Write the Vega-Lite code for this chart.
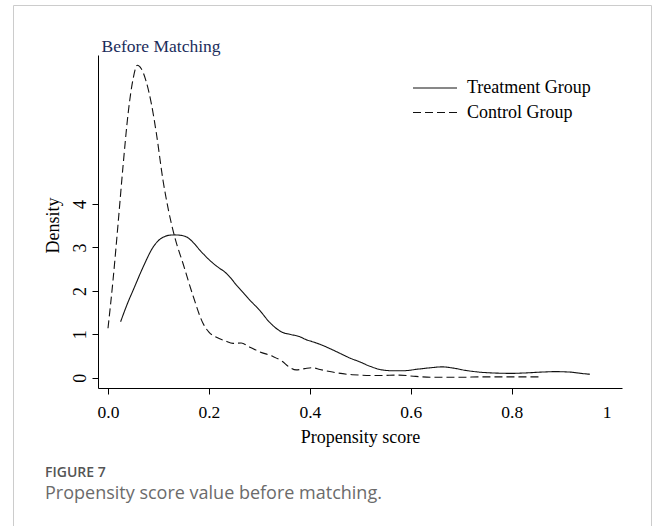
{
  "$schema": "https://vega.github.io/schema/vega-lite/v6.json",
  "width": 638,
  "height": 521,
  "autosize": {"type": "none"},
  "padding": {"left": 13, "top": 5, "right": 7, "bottom": 0},
  "background": "white",
  "config": {
    "view": {"stroke": "#cccccc", "strokeWidth": 1},
    "font": "Liberation Serif",
    "axis": {
      "grid": false,
      "domainColor": "#000000",
      "tickColor": "#000000",
      "labelColor": "#000000",
      "titleColor": "#000000",
      "labelFont": "Liberation Serif",
      "titleFont": "Liberation Serif",
      "labelFontSize": 17.5,
      "titleFontSize": 18,
      "titleFontWeight": "normal",
      "tickSize": 6
    }
  },
  "datasets": {
    "curves": [
      {"group": "Treatment Group", "x": 0.025, "y": 1.29},
      {"group": "Treatment Group", "x": 0.040, "y": 1.75},
      {"group": "Treatment Group", "x": 0.050, "y": 2.02},
      {"group": "Treatment Group", "x": 0.070, "y": 2.56},
      {"group": "Treatment Group", "x": 0.090, "y": 3.02},
      {"group": "Treatment Group", "x": 0.100, "y": 3.16},
      {"group": "Treatment Group", "x": 0.110, "y": 3.24},
      {"group": "Treatment Group", "x": 0.120, "y": 3.28},
      {"group": "Treatment Group", "x": 0.132, "y": 3.29},
      {"group": "Treatment Group", "x": 0.145, "y": 3.28},
      {"group": "Treatment Group", "x": 0.159, "y": 3.22},
      {"group": "Treatment Group", "x": 0.170, "y": 3.10},
      {"group": "Treatment Group", "x": 0.182, "y": 2.94},
      {"group": "Treatment Group", "x": 0.195, "y": 2.78},
      {"group": "Treatment Group", "x": 0.208, "y": 2.64},
      {"group": "Treatment Group", "x": 0.220, "y": 2.53},
      {"group": "Treatment Group", "x": 0.231, "y": 2.44},
      {"group": "Treatment Group", "x": 0.243, "y": 2.30},
      {"group": "Treatment Group", "x": 0.254, "y": 2.14},
      {"group": "Treatment Group", "x": 0.268, "y": 1.96},
      {"group": "Treatment Group", "x": 0.281, "y": 1.79},
      {"group": "Treatment Group", "x": 0.300, "y": 1.56},
      {"group": "Treatment Group", "x": 0.320, "y": 1.28},
      {"group": "Treatment Group", "x": 0.333, "y": 1.14},
      {"group": "Treatment Group", "x": 0.345, "y": 1.05},
      {"group": "Treatment Group", "x": 0.360, "y": 1.00},
      {"group": "Treatment Group", "x": 0.379, "y": 0.95},
      {"group": "Treatment Group", "x": 0.392, "y": 0.88},
      {"group": "Treatment Group", "x": 0.405, "y": 0.83},
      {"group": "Treatment Group", "x": 0.420, "y": 0.77},
      {"group": "Treatment Group", "x": 0.438, "y": 0.68},
      {"group": "Treatment Group", "x": 0.460, "y": 0.56},
      {"group": "Treatment Group", "x": 0.480, "y": 0.45},
      {"group": "Treatment Group", "x": 0.498, "y": 0.37},
      {"group": "Treatment Group", "x": 0.520, "y": 0.26},
      {"group": "Treatment Group", "x": 0.543, "y": 0.18},
      {"group": "Treatment Group", "x": 0.565, "y": 0.16},
      {"group": "Treatment Group", "x": 0.583, "y": 0.16},
      {"group": "Treatment Group", "x": 0.616, "y": 0.20},
      {"group": "Treatment Group", "x": 0.640, "y": 0.23},
      {"group": "Treatment Group", "x": 0.662, "y": 0.25},
      {"group": "Treatment Group", "x": 0.685, "y": 0.22},
      {"group": "Treatment Group", "x": 0.708, "y": 0.17},
      {"group": "Treatment Group", "x": 0.735, "y": 0.13},
      {"group": "Treatment Group", "x": 0.761, "y": 0.11},
      {"group": "Treatment Group", "x": 0.800, "y": 0.10},
      {"group": "Treatment Group", "x": 0.827, "y": 0.11},
      {"group": "Treatment Group", "x": 0.860, "y": 0.13},
      {"group": "Treatment Group", "x": 0.886, "y": 0.14},
      {"group": "Treatment Group", "x": 0.915, "y": 0.13},
      {"group": "Treatment Group", "x": 0.945, "y": 0.09},
      {"group": "Treatment Group", "x": 0.955, "y": 0.08},
      {"group": "Control Group", "x": 0.000, "y": 1.14},
      {"group": "Control Group", "x": 0.010, "y": 2.25},
      {"group": "Control Group", "x": 0.020, "y": 3.55},
      {"group": "Control Group", "x": 0.030, "y": 4.90},
      {"group": "Control Group", "x": 0.040, "y": 6.10},
      {"group": "Control Group", "x": 0.050, "y": 6.90},
      {"group": "Control Group", "x": 0.058, "y": 7.20},
      {"group": "Control Group", "x": 0.066, "y": 7.12},
      {"group": "Control Group", "x": 0.075, "y": 6.85},
      {"group": "Control Group", "x": 0.086, "y": 6.31},
      {"group": "Control Group", "x": 0.096, "y": 5.62},
      {"group": "Control Group", "x": 0.109, "y": 4.55},
      {"group": "Control Group", "x": 0.120, "y": 3.85},
      {"group": "Control Group", "x": 0.132, "y": 3.25},
      {"group": "Control Group", "x": 0.149, "y": 2.62},
      {"group": "Control Group", "x": 0.169, "y": 1.87},
      {"group": "Control Group", "x": 0.188, "y": 1.26},
      {"group": "Control Group", "x": 0.200, "y": 1.05},
      {"group": "Control Group", "x": 0.215, "y": 0.93},
      {"group": "Control Group", "x": 0.232, "y": 0.85},
      {"group": "Control Group", "x": 0.248, "y": 0.79},
      {"group": "Control Group", "x": 0.264, "y": 0.80},
      {"group": "Control Group", "x": 0.280, "y": 0.71},
      {"group": "Control Group", "x": 0.300, "y": 0.60},
      {"group": "Control Group", "x": 0.327, "y": 0.49},
      {"group": "Control Group", "x": 0.345, "y": 0.38},
      {"group": "Control Group", "x": 0.360, "y": 0.24},
      {"group": "Control Group", "x": 0.373, "y": 0.18},
      {"group": "Control Group", "x": 0.390, "y": 0.21},
      {"group": "Control Group", "x": 0.405, "y": 0.23},
      {"group": "Control Group", "x": 0.420, "y": 0.19},
      {"group": "Control Group", "x": 0.445, "y": 0.13},
      {"group": "Control Group", "x": 0.484, "y": 0.07},
      {"group": "Control Group", "x": 0.537, "y": 0.05},
      {"group": "Control Group", "x": 0.577, "y": 0.06},
      {"group": "Control Group", "x": 0.610, "y": 0.03},
      {"group": "Control Group", "x": 0.642, "y": 0.01},
      {"group": "Control Group", "x": 0.700, "y": 0.01},
      {"group": "Control Group", "x": 0.741, "y": 0.02},
      {"group": "Control Group", "x": 0.800, "y": 0.02},
      {"group": "Control Group", "x": 0.855, "y": 0.02}
    ]
  },
  "title": {
    "text": "FIGURE 7",
    "subtitle": "Propensity score value before matching.",
    "orient": "bottom",
    "anchor": "start",
    "frame": "group",
    "offset": -60,
    "dx": 32,
    "font": "Open Sans",
    "fontSize": 14,
    "fontWeight": 600,
    "color": "#555555",
    "subtitleFont": "Open Sans",
    "subtitleFontSize": 18,
    "subtitleFontWeight": "normal",
    "subtitleColor": "#6b6b6b",
    "subtitlePadding": 5
  },
  "layer": [
    {
      "data": {"name": "curves"},
      "transform": [{"filter": "datum.group === 'Treatment Group'"}],
      "mark": {"type": "line", "color": "#111111", "strokeWidth": 1.1, "interpolate": "monotone"},
      "encoding": {
        "x": {
          "field": "x", "type": "quantitative",
          "scale": {"domain": [-0.0198, 1.0186], "range": [85, 609], "nice": false, "zero": false},
          "axis": {
            "orient": "bottom", "offset": -138,
            "values": [0, 0.2, 0.4, 0.6, 0.8, 1],
            "labelExpr": "datum.value == 1 ? '1' : format(datum.value, '.1f')",
            "labelBaseline": "alphabetic", "labelPadding": 23,
            "tickColor": {"condition": {"test": "datum.value == 1", "value": "transparent"}, "value": "#000000"},
            "labelOffset": {"condition": {"test": "datum.value == 1", "value": -6}, "value": 0},
            "title": "Propensity score", "titleBaseline": "alphabetic", "titleY": 54
          }
        },
        "y": {
          "field": "y", "type": "quantitative",
          "scale": {"domain": [-0.237, 7.435], "range": [383, 50], "nice": false, "zero": false},
          "axis": {
            "orient": "left", "offset": -85,
            "values": [0, 1, 2, 3, 4],
            "labelExpr": "format(datum.value, 'd')",
            "labelFont": "Liberation Serif", "labelFontSize": 18,
            "labelAngle": -90, "labelAlign": "center", "labelBaseline": "alphabetic", "labelPadding": 7,
            "title": "Density", "titleAngle": -90, "titleAlign": "center", "titleBaseline": "alphabetic",
            "titleX": -40, "titleY": 220
          }
        },
        "strokeDash": {
          "field": "group", "type": "nominal",
          "scale": {"domain": ["Treatment Group", "Control Group"], "range": [[1, 0], [8, 4]]},
          "legend": {
            "title": null, "orient": "none", "legendX": 411.5, "legendY": 72.5, "padding": 0,
            "symbolType": "M-2.2,0H2.2", "symbolSize": 400, "symbolStrokeWidth": 1, "symbolStrokeColor": "#000000",
            "labelFont": "Liberation Serif", "labelFontSize": 18, "labelColor": "#000000", "labelOffset": 21.5,
            "rowPadding": 4.5
          }
        }
      }
    },
    {
      "data": {"name": "curves"},
      "transform": [{"filter": "datum.group === 'Control Group'"}],
      "mark": {"type": "line", "color": "#111111", "strokeWidth": 1.1, "interpolate": "monotone"},
      "encoding": {
        "x": {
          "field": "x", "type": "quantitative",
          "scale": {"domain": [-0.0198, 1.0186], "range": [85, 609], "nice": false, "zero": false},
          "axis": {
            "orient": "top", "domain": false, "ticks": false, "labels": false, "grid": false,
            "title": "Before Matching", "titleX": 88, "titleY": 46, "titleAlign": "left", "titleAngle": 0,
            "titleBaseline": "alphabetic", "titleColor": "#1b2d5b", "titleFontSize": 17.5
          }
        },
        "y": {"field": "y", "type": "quantitative"},
        "strokeDash": {"field": "group", "type": "nominal"}
      }
    }
  ],
  "resolve": {"scale": {"x": "independent"}}
}
